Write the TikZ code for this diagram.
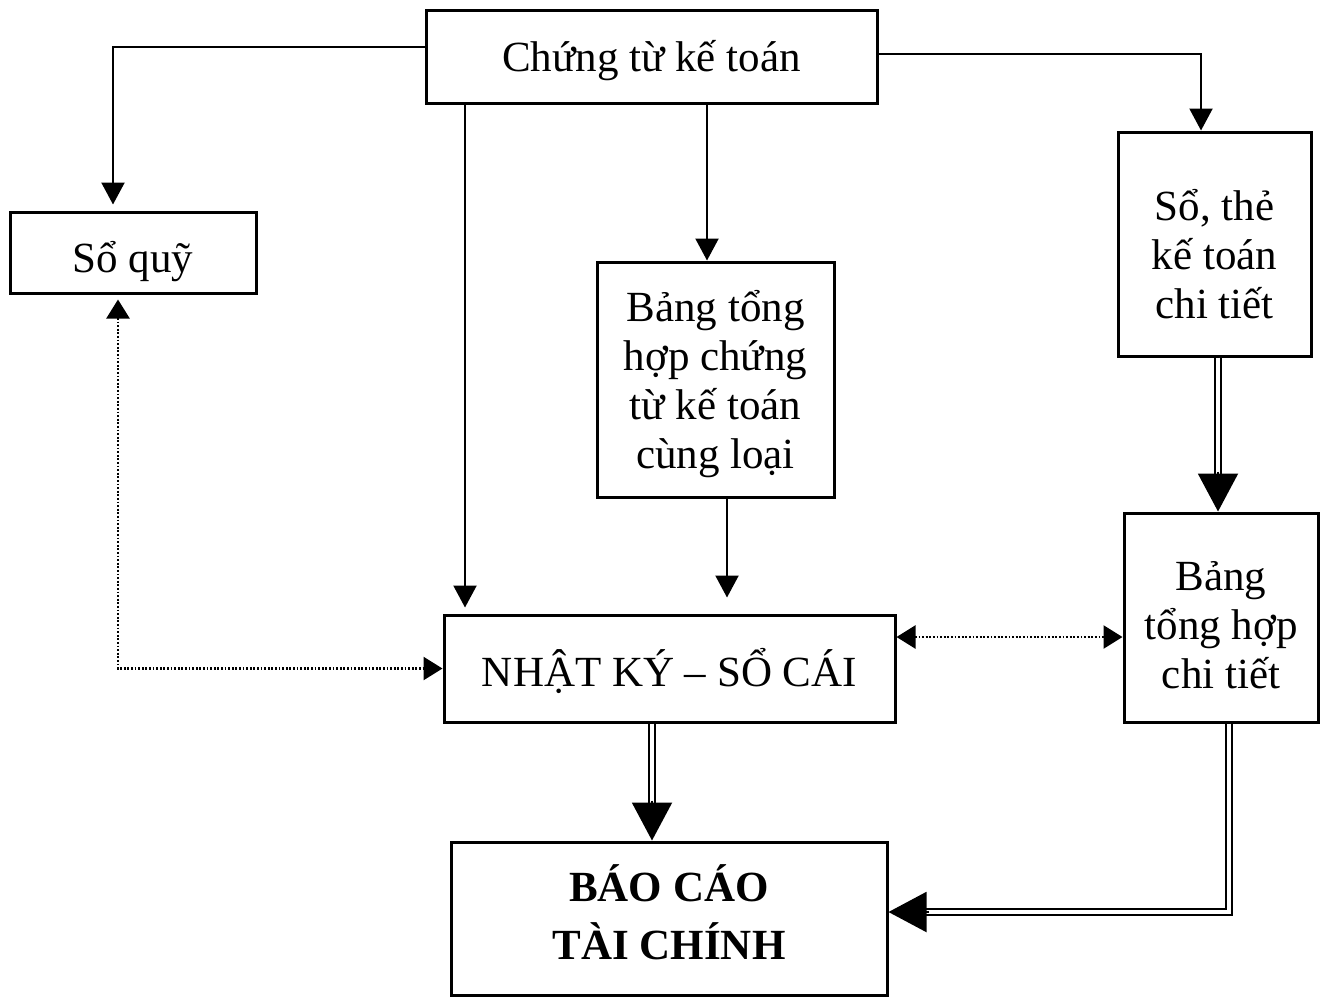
\documentclass[tikz,border=0pt]{standalone}
\usepackage{fontspec}
\setmainfont{Liberation Serif}
\usetikzlibrary{arrows.meta,calc}
\begin{document}
\begin{tikzpicture}[x=0.5pt,y=-0.5pt,
  box/.style={draw,line width=1.5pt,inner sep=0pt,align=center,
    font=\fontsize{21.5}{24.5}\selectfont},
  arr/.style={line width=1.1pt,-{Triangle[width=11.5pt,length=11pt]}},
  dbl/.style={double,line width=1pt,double distance=2.2pt,line join=miter},
  bigtip/.style={line width=1pt,-{Triangle[width=20pt,length=19pt]}},
  dot/.style={line width=1.2pt,dash pattern=on 0.9pt off 0.9pt,
    {Triangle[width=11.5pt,length=9.5pt]}-{Triangle[width=11.5pt,length=9.5pt]}}]
\useasboundingbox (0,0) rectangle (1320,997);

\node[box,minimum width=225.5pt,text height=30.5pt,text depth=16pt] (ct) at (651.5,56.5) {Chứng từ kế toán};
\node[box,minimum width=123pt,text height=30pt,text depth=10.5pt] (sq) at (133,252.5) {Sổ quỹ};
\node[box,minimum width=118.5pt,text height=103pt,text depth=14.5pt] (bth) at (715.5,379.5) {Bảng tổng\\hợp chứng\\từ kế toán\\cùng loại};
\node[box,minimum width=96.5pt,text height=93pt,text depth=19pt] (st) at (1214.5,244) {Sổ, thẻ\\kế toán\\chi tiết};
\node[box,minimum width=97pt,text height=87.5pt,text depth=17pt] (th) at (1221,617.5) {Bảng\\tổng hợp\\chi tiết};
\node[box,minimum width=225.5pt,text height=35.5pt,text depth=18pt] (nk) at (669.5,668.5) {NHẬT KÝ -- SỔ CÁI};
\node[box,minimum width=218pt,text height=58.5pt,text depth=18pt,
  font=\fontsize{21.5}{29}\selectfont\bfseries] (bc) at (669,918.5) {BÁO CÁO\\TÀI CHÍNH};

% coordinates for connector routes
\coordinate (yl) at (113,47);
\coordinate (yr) at (1201,54);
\coordinate (xa) at (465,0);
\coordinate (xb) at (707,0);
\coordinate (xc) at (727,0);
\coordinate (xd) at (1218,0);
\coordinate (xe) at (652,0);
\coordinate (xf) at (1229,912);
\coordinate (xg) at (118,0);
\coordinate (yd) at (0,637);

% single arrows from Chung tu ke toan
\draw[arr,shorten >=3pt] (ct.west |- yl) -| (sq.north -| yl);
\draw[arr,shorten >=3pt] (ct.south -| xa) -- (nk.north -| xa);
\draw[arr] (ct.south -| xb) -- (bth.north -| xb);
\draw[arr] (ct.east |- yr) -| (st.north -| yr);
\draw[arr,shorten >=8pt] (bth.south -| xc) -- (nk.north -| xc);

% double arrows
\draw[dbl] (st.south -| xd) -- ($(th.north -| xd)+(0,-36)$);
\draw[bigtip] ($(th.north -| xd)+(0,-40)$) -- (th.north -| xd);
\draw[dbl] (nk.south -| xe) -- ($(bc.north -| xe)+(0,-36)$);
\draw[bigtip] ($(bc.north -| xe)+(0,-40)$) -- (bc.north -| xe);
\draw[dbl] (th.south -| xf) |- ($(bc.east |- xf)+(36,0)$);
\draw[bigtip] ($(bc.east |- xf)+(40,0)$) -- (bc.east |- xf);

% dotted arrows
\draw[dot] (nk.east |- yd) -- (th.west |- yd);
\draw[dot,shorten <=2.5pt] (sq.south -| xg) |- (nk.west);
\end{tikzpicture}
\end{document}
